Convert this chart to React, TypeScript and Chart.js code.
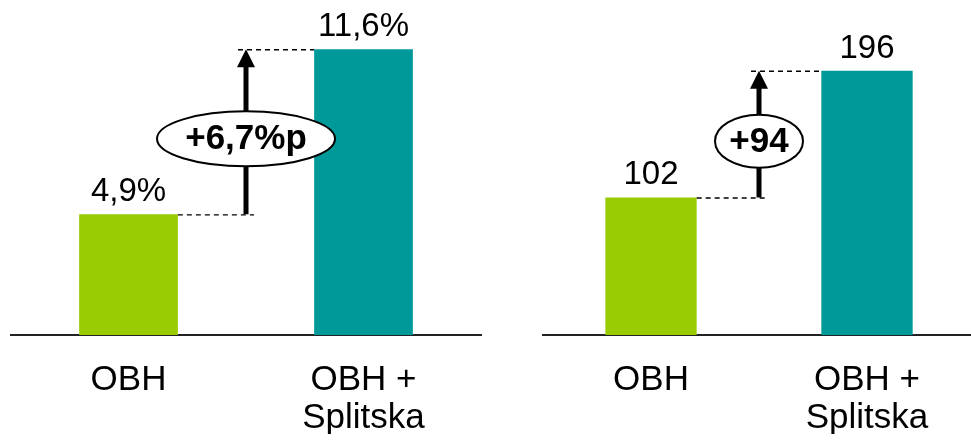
import React, { useEffect, useRef } from "react";
import { Chart, registerables } from "chart.js";

Chart.register(...registerables);

// ---- data ----
const categories: (string | string[])[] = ["OBH", ["OBH +", "Splitska"]];
const shareValues = [4.9, 11.6];
const shareLabels = ["4,9%", "11,6%"];
const shareDelta = "+6,7%p";
const countValues = [102, 196];
const countLabels = ["102", "196"];
const countDelta = "+94";
const barColors = ["#99CC00", "#009999"];

const FONT = "'Liberation Sans', Arial, Helvetica, sans-serif";

const annotPlugin = {
  id: "annot",
  afterDatasetsDraw(chart: any, _args: any, o: any) {
    const ctx: CanvasRenderingContext2D = chart.ctx;
    const bars: any[] = chart.getDatasetMeta(0).data;
    ctx.save();
    // value labels
    ctx.fillStyle = "#000";
    ctx.font = `33px ${FONT}`;
    ctx.textAlign = "center";
    ctx.textBaseline = "alphabetic";
    bars.forEach((b, i) => ctx.fillText(o.labels[i], b.x, b.y - 13));

    const b0 = bars[0];
    const b1 = bars[1];
    const r0 = b0.x + b0.width / 2;
    const l1 = b1.x - b1.width / 2;
    const ax = (r0 + l1) / 2;

    // dashed guide lines
    ctx.strokeStyle = "#000";
    ctx.lineWidth = 1.3;
    ctx.setLineDash([5, 4]);
    ctx.beginPath();
    ctx.moveTo(r0, b0.y + 0.5);
    ctx.lineTo(ax + 8, b0.y + 0.5);
    ctx.moveTo(ax - 8, b1.y + 0.5);
    ctx.lineTo(l1, b1.y + 0.5);
    ctx.stroke();
    ctx.setLineDash([]);

    // arrow shaft
    ctx.lineWidth = 5;
    ctx.beginPath();
    ctx.moveTo(ax, b0.y);
    ctx.lineTo(ax, b1.y + 14);
    ctx.stroke();
    // arrow head
    ctx.beginPath();
    ctx.moveTo(ax, b1.y);
    ctx.lineTo(ax - 9, b1.y + 18);
    ctx.lineTo(ax + 9, b1.y + 18);
    ctx.closePath();
    ctx.fill();

    // ellipse
    const ey = (b0.y + b1.y) / 2 + o.ellipseDy;
    ctx.beginPath();
    ctx.ellipse(ax, ey, o.rx, o.ry, 0, 0, Math.PI * 2);
    ctx.fillStyle = "#fff";
    ctx.fill();
    ctx.lineWidth = 2;
    ctx.strokeStyle = "#000";
    ctx.stroke();

    ctx.fillStyle = "#000";
    ctx.font = `bold 35px ${FONT}`;
    ctx.textBaseline = "middle";
    ctx.fillText(o.delta, ax, ey + 1);
    ctx.restore();
  },
};

type PanelProps = {
  values: number[];
  labels: string[];
  delta: string;
  yMax: number;
  padLeft: number;
  padRight: number;
  rx: number;
  ry: number;
  ellipseDy: number;
  barFrac: number;
  left: number;
  width: number;
};

function Panel(p: PanelProps) {
  const ref = useRef<HTMLCanvasElement | null>(null);
  useEffect(() => {
    if (!ref.current) return;
    const chart = new Chart(ref.current, {
      type: "bar",
      data: {
        labels: categories as any,
        datasets: [
          {
            data: p.values,
            backgroundColor: barColors,
            borderWidth: 0,
            categoryPercentage: 1,
            barPercentage: p.barFrac,
          },
        ],
      },
      options: {
        responsive: false,
        animation: false,
        devicePixelRatio: 1,
        layout: { padding: { left: p.padLeft, right: p.padRight, top: 0, bottom: 7 } },
        plugins: {
          legend: { display: false },
          tooltip: { enabled: false },
          annot: { labels: p.labels, delta: p.delta, rx: p.rx, ry: p.ry, ellipseDy: p.ellipseDy },
        } as any,
        scales: {
          x: {
            grid: { display: false, drawTicks: false },
            border: { display: true, color: "#222", width: 2 },
            ticks: {
              color: "#000",
              font: { family: FONT, size: 35, lineHeight: 1.1 },
              padding: 26,
              autoSkip: false,
              maxRotation: 0,
              minRotation: 0,
            },
            afterFit: (s: any) => {
              s.height = 99;
            },
          },
          y: { display: false, min: 0, max: p.yMax },
        },
      },
      plugins: [annotPlugin as any],
    });
    return () => chart.destroy();
  }, []);
  return (
    <canvas
      ref={ref}
      width={p.width}
      height={441}
      style={{ position: "absolute", left: p.left, top: 0, width: p.width, height: 441 }}
    />
  );
}

export default function App() {
  return (
    <div
      style={{
        position: "absolute",
        left: 0,
        top: 0,
        width: 971,
        height: 441,
        overflow: "hidden",
        background: "#fff",
      }}
    >
      <Panel
        values={shareValues}
        labels={shareLabels}
        delta={shareDelta}
        yMax={13.6}
        padLeft={11}
        padRight={5}
        rx={89}
        ry={27.5}
        ellipseDy={7}
        barFrac={0.42}
        left={0}
        width={486}
      />
      <Panel
        values={countValues}
        labels={countLabels}
        delta={countDelta}
        yMax={248.5}
        padLeft={53}
        padRight={0}
        rx={44}
        ry={26.5}
        ellipseDy={7}
        barFrac={0.423}
        left={490}
        width={485}
      />
    </div>
  );
}
